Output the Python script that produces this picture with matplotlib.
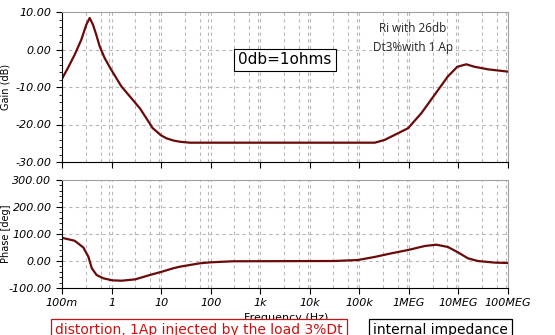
import numpy as np
import matplotlib.pyplot as plt
from matplotlib.ticker import FixedLocator, MultipleLocator

# values
gain_f = [0.1, 0.132, 0.18, 0.245, 0.309, 0.362, 0.422, 0.492, 0.575, 0.726, 0.986,
          1.57, 3.74, 6.8, 10, 12.9, 18, 24, 38,
          205e3, 325e3, 960e3, 1.78e6, 3.3e6, 6.1e6, 9.5e6, 14.4e6, 21e6, 40e6, 100e6]
gain_db = [-7.8, -4.9, -1.4, 2.6, 6.6, 8.4, 6.6, 3.9, 0.85, -2.3, -5.4,
           -9.8, -15.7, -21.0, -22.9, -23.7, -24.3, -24.6, -24.85,
           -24.85, -24.1, -21.0, -17.0, -12.1, -7.2, -4.6, -3.95, -4.6, -5.3, -5.9]

phase_f = [0.1, 0.18, 0.27, 0.34, 0.4, 0.5, 0.68, 1.03, 1.6, 3.0, 5.9, 10.2, 17.5, 24,
           60, 100, 280, 32e3, 94e3, 204e3, 445e3, 960e3, 2.1e6, 3.56e6, 6.1e6, 9.8e6,
           15.5e6, 24.6e6, 54e6, 100e6]
phase_deg = [86, 75, 50, 16, -27, -52, -64, -71.6, -73, -68, -52, -40, -27, -21,
             -8.6, -4.9, -1, 0, 3.7, 15, 28.5, 40.7, 55.6, 60.4, 52, 32,
             10, 0, -6, -7.4]

xticks = [0.1, 1, 10, 100, 1e3, 1e4, 1e5, 1e6, 1e7, 1e8]
xlabels = ['100m', '1', '10', '100', '1k', '10k', '100k', '1MEG', '10MEG', '100MEG']

W, H = 555, 335
line_col = '#6a0a0a'
grid_col = '#b8b8b8'

fig = plt.figure(figsize=(W / 100, H / 100), dpi=100)
ax1 = fig.add_axes([62 / W, (H - 162) / H, 446 / W, 150 / H])
ax2 = fig.add_axes([62 / W, (H - 288) / H, 446 / W, 108 / H])

# grid lines at 3, 6, 9, 10 of each decade like the original
grid_x = [m * 10.0 ** e for e in range(-1, 8) for m in (3, 6, 9, 10)]

for ax in (ax1, ax2):
    ax.set_xscale('log')
    ax.set_xlim(0.1, 1e8)
    for gx in grid_x:
        ax.axvline(gx, color=grid_col, lw=0.8, ls=(0, (3, 3)), zorder=0)
    for s in ('top', 'right'):
        ax.spines[s].set_color('#a0a0a0')
    ax.xaxis.set_major_locator(FixedLocator(xticks))
    ax.xaxis.set_minor_locator(FixedLocator([]))
    ax.tick_params(axis='both', which='major', length=4, labelsize=8)
    ax.tick_params(axis='y', which='minor', length=2)

ax1.plot(gain_f, gain_db, color=line_col, lw=1.6)
ax1.set_ylim(-30, 10)
ax1.set_yticks([-30, -20, -10, 0, 10])
ax1.yaxis.set_minor_locator(MultipleLocator(2))
ax1.set_yticklabels(['%.2f' % v for v in [-30, -20, -10, 0, 10]], style='italic')
for gy in (-20, -10, 0):
    ax1.axhline(gy, color=grid_col, lw=0.8, ls=(0, (3, 3)), zorder=0)
ax1.set_xticklabels([])
ax1.set_ylabel('Gain (dB)', fontsize=7, labelpad=8)

ax2.plot(phase_f, phase_deg, color=line_col, lw=1.6)
ax2.set_ylim(-100, 300)
ax2.set_yticks([-100, 0, 100, 200, 300])
ax2.yaxis.set_minor_locator(MultipleLocator(20))
ax2.set_yticklabels(['%.2f' % v for v in [-100, 0, 100, 200, 300]], style='italic')
for gy in (0, 100, 200):
    ax2.axhline(gy, color=grid_col, lw=0.8, ls=(0, (3, 3)), zorder=0)
ax2.set_xticklabels(xlabels, style='italic')
ax2.set_ylabel('Phase [deg]', fontsize=7, labelpad=4)
ax1.yaxis.set_label_coords(-0.115, 0.5)
ax2.yaxis.set_label_coords(-0.115, 0.5)

fig.text(286 / W, 1 - 318 / H, 'Frequency (Hz)', fontsize=8, ha='center', va='center')

fig.text(285 / W, 1 - 60 / H, '0db=1ohms', fontsize=11, ha='center', va='center',
         bbox=dict(boxstyle='square,pad=0.25', fc='white', ec='black', lw=0.8))
fig.text(413 / W, 1 - 29 / H, 'Ri with 26db', fontsize=8.5, ha='center', va='center',
         color='#222222', family='Open Sans')
fig.text(413 / W, 1 - 48 / H, 'Dt3%with 1 Ap', fontsize=8.5, ha='center', va='center',
         color='#222222', family='Open Sans')

# the two note boxes are cut by the bottom edge in the original too
fig.text(55 / W, 1 - 334 / H, 'distortion, 1Ap injected by the load 3%Dt', fontsize=10,
         color='#cc1010', ha='left', va='baseline',
         bbox=dict(boxstyle='square,pad=0.3', fc='white', ec='#cc1010', lw=0.9))
fig.text(373 / W, 1 - 334 / H, 'internal impedance', fontsize=10,
         color='black', ha='left', va='baseline',
         bbox=dict(boxstyle='square,pad=0.3', fc='white', ec='black', lw=0.9))

fig.savefig('out.png', dpi=100)
